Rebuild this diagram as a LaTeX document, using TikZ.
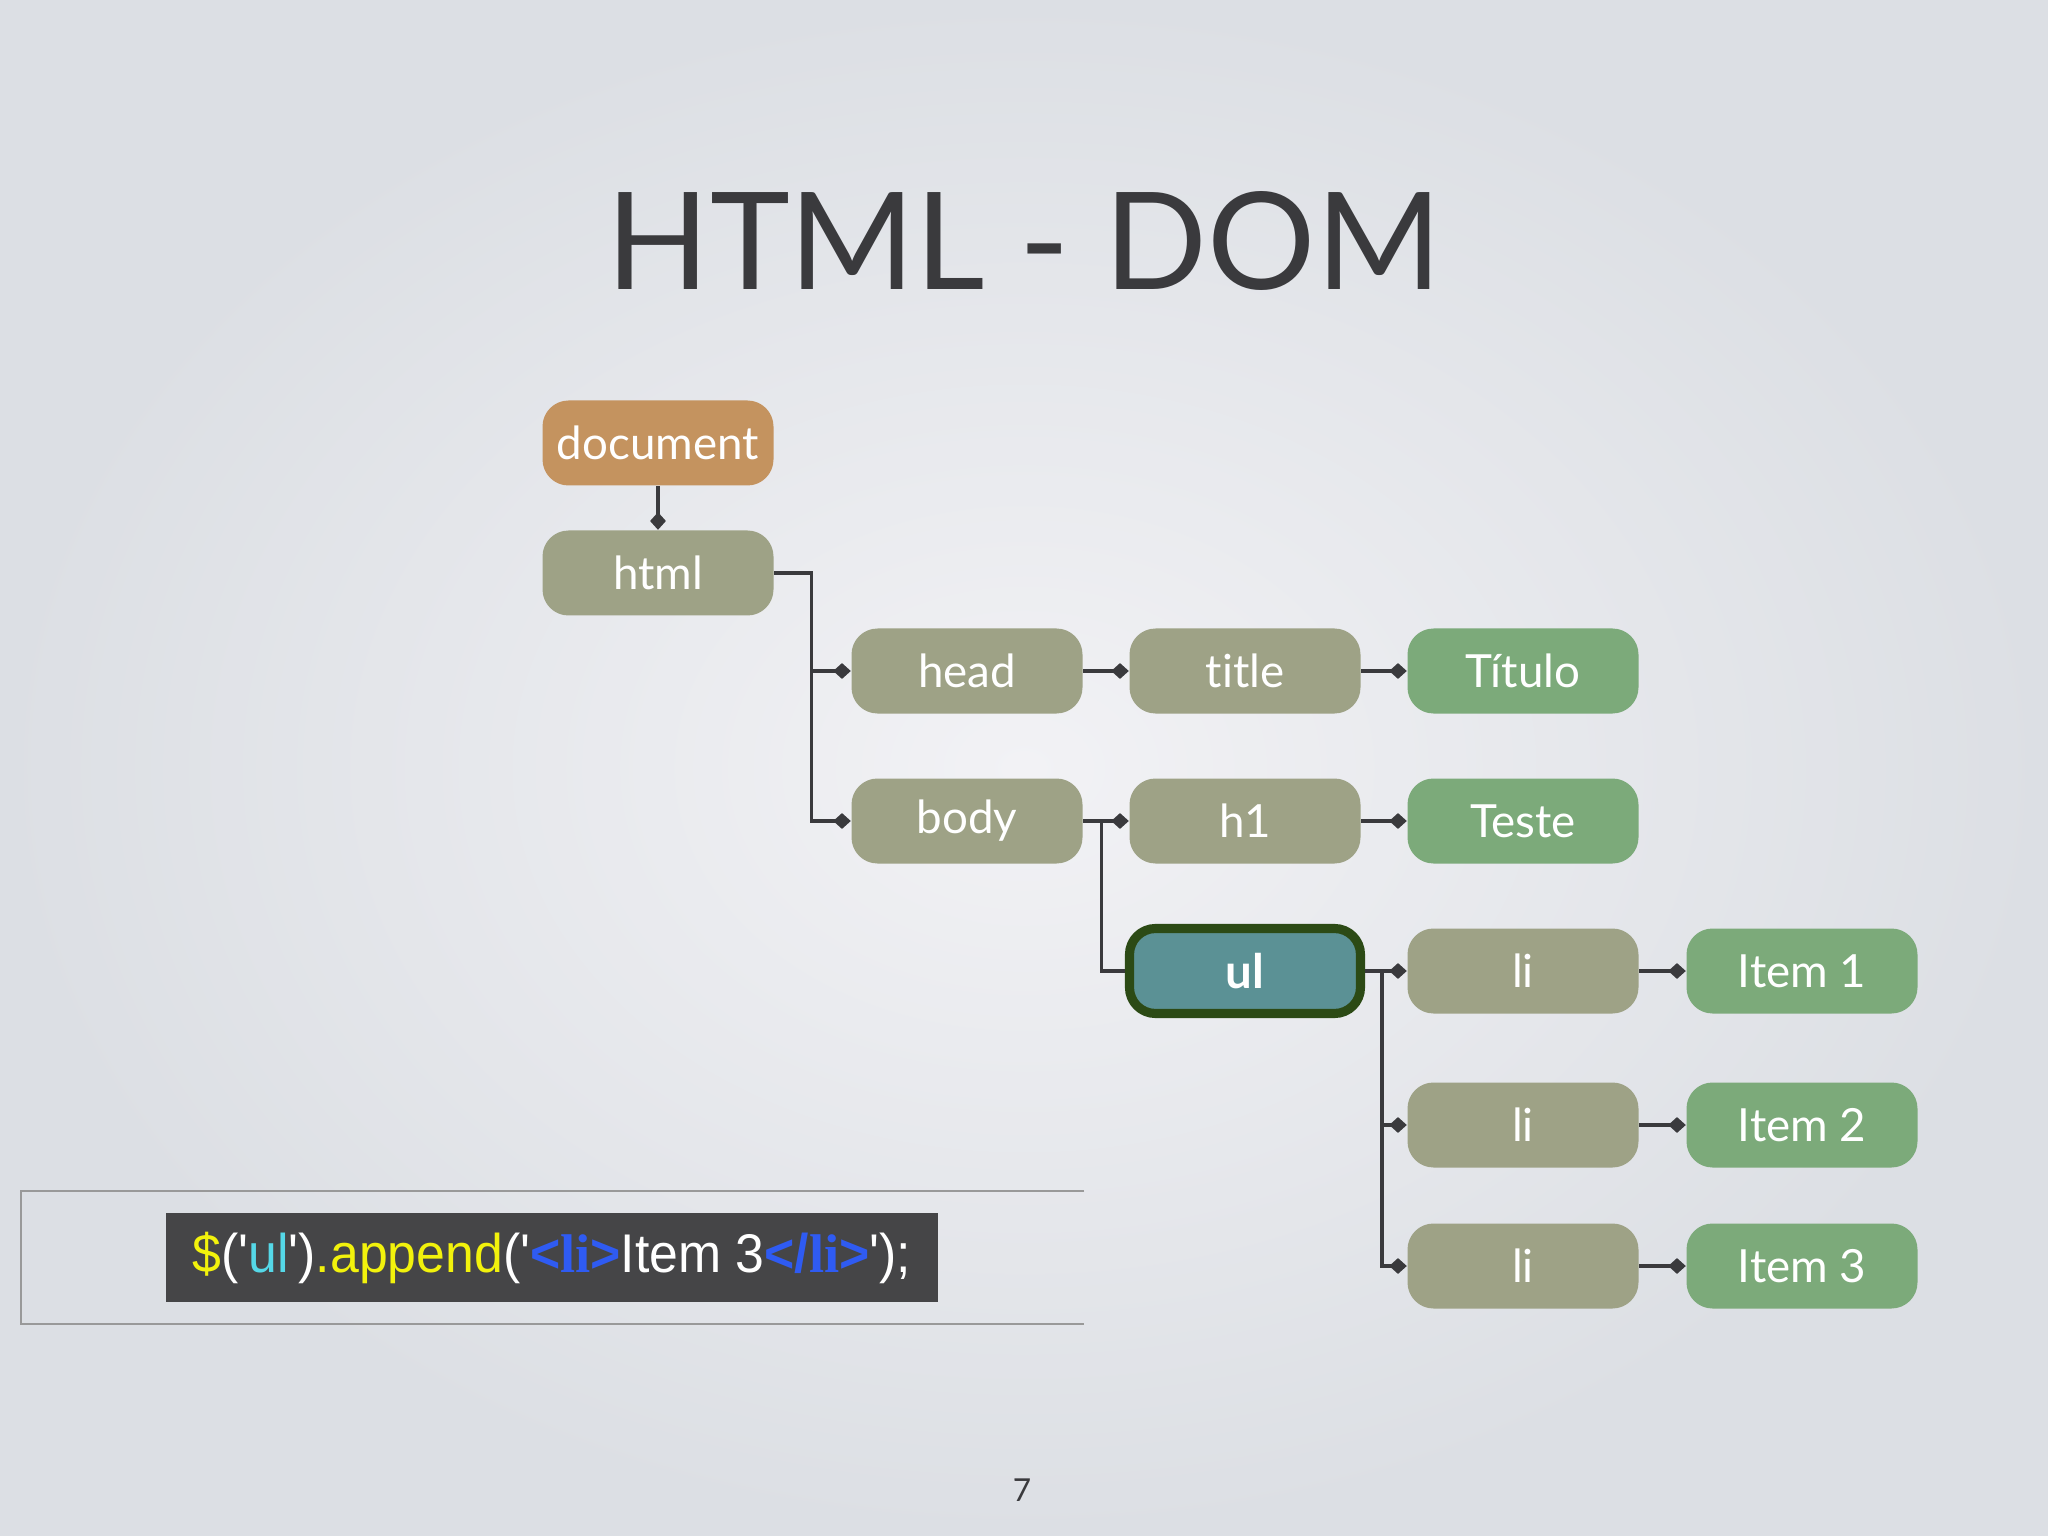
\documentclass[tikz,border=0pt]{standalone}
\usepackage{fontspec}
\setmainfont{Lato}[Ligatures=NoCommon]
\newfontfamily\codefont[FakeStretch=0.95]{Liberation Sans}
\newfontfamily\tagfont{Liberation Serif}
\usetikzlibrary{arrows.meta,calc}
\definecolor{bgin}{HTML}{F2F2F5}
\definecolor{bgout}{HTML}{DCDFE4}
\definecolor{ink}{HTML}{3A3A3D}
\definecolor{docc}{HTML}{C4935F}
\definecolor{elem}{HTML}{9EA286}
\definecolor{txtc}{HTML}{7CAA7A}
\definecolor{ulfill}{HTML}{5B9195}
\definecolor{ulline}{HTML}{2C4A15}
\definecolor{codebg}{HTML}{454547}
\definecolor{cyel}{HTML}{F2F20C}
\definecolor{ccyan}{HTML}{55D8E8}
\definecolor{cblue}{HTML}{2F5BF2}

\begin{document}
\begin{tikzpicture}[>={Diamond[length=5pt,width=4.5pt]},
  box/.style={rounded corners=0.26cm, minimum width=2.31cm, minimum height=0.85cm,
    inner sep=0pt, text=white, font=\fontsize{13}{16}\selectfont},
  link/.style={draw=ink, line width=0.9pt}]
\useasboundingbox (0,-15.36) rectangle (20.48,0);
\shade[inner color=bgin, outer color=bgout] (0,-15.36) rectangle (20.48,0);
\node[text=ink, font=\fontsize{38.5}{44}\selectfont, anchor=base] (head1) at (10.24,-2.90) {HTML - DOM};
% tree nodes
\foreach \p/\lab/\col/\x/\y in {doc/document/docc/6.58/4.43, html/html/elem/6.58/5.73,
    head/head/elem/9.67/6.71, title/title/elem/12.45/6.71, tit/Título/txtc/15.23/6.71,
    body/body/elem/9.67/8.21, h1/h1/elem/12.45/8.21, teste/Teste/txtc/15.23/8.21,
    li1/li/elem/15.23/9.71, item1/Item 1/txtc/18.02/9.71,
    li2/li/elem/15.23/11.25, item2/Item 2/txtc/18.02/11.25,
    li3/li/elem/15.23/12.66, item3/Item 3/txtc/18.02/12.66}
  {\node[box, fill=\col] (\p) at (\x,-\y) {\lab};}
\node[box, fill=ulfill, draw=ulline, line width=2.6pt, font=\fontsize{13.5}{16}\selectfont\bfseries] (ul) at (12.45,-9.71) {ul};
% connectors
\draw[link,->] (doc) -- (html);
\coordinate (j1) at ($(html.east)+(0.37,0)$);
\draw[link,->] (html.east) -- (j1) |- (body.west);
\draw[link,->] (j1) |- (head.west);
\coordinate (j2) at ($(body.east)+(0.18,0)$);
\draw[link] (j2) |- (ul.west);
\coordinate (j3) at ($(ul.east)+(0.17,0)$);
\draw[link,->] (j3) |- (li2.west);
\draw[link,->] (j3) |- (li3.west);
\foreach \a/\b in {head/title, title/tit, body/h1, h1/teste, ul/li1,
    li1/item1, li2/item2, li3/item3}
  {\draw[link,->] (\a) -- (\b);}
% code line
\draw[draw=gray!80, line width=0.6pt] (10.84,-11.91) -- (0.21,-11.91) -- (0.21,-13.24) -- (10.84,-13.24);
\node[fill=codebg, minimum width=7.72cm, minimum height=0.89cm, inner sep=0pt,
  font=\codefont\fontsize{15.5}{18}\selectfont, text=white] (code) at (5.52,-12.575)
  {\textcolor{cyel}{\$}('\textcolor{ccyan}{ul}')\textcolor{cyel}{.append}('\textcolor{cblue}{\bfseries<{\tagfont li}>}Item 3\textcolor{cblue}{\bfseries</{\tagfont li}>}');};
\node[text=ink, font=\fontsize{9}{11}\selectfont] (page) at (10.22,-14.90) {7};
\end{tikzpicture}
\end{document}
